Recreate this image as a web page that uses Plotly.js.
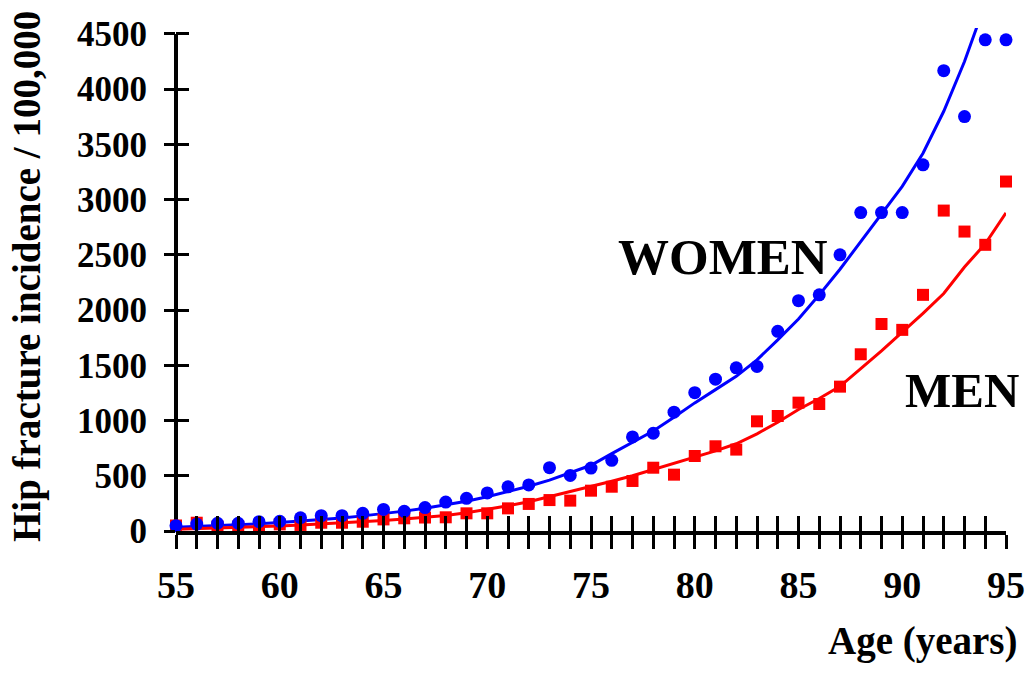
<!DOCTYPE html>
<html>
<head>
<meta charset="utf-8">
<script src="https://cdn.plot.ly/plotly-3.0.1.min.js"></script>
<style>html,body{margin:0;padding:0;background:#fff;}#chart{width:1029px;height:691px;}</style>
</head>
<body>
<div id="chart"></div>
<script>
// Age in years
const ages = [55,56,57,58,59,60,61,62,63,64,65,66,67,68,69,70,71,72,73,74,75,76,77,78,79,80,81,82,83,84,85,86,87,88,89,90,91,92,93,94,95];

// Observed hip fracture incidence per 100,000 (women)
const womenObserved = [48,63,70,70,84,88,120,139,139,160,195,178,212,262,296,345,400,417,573,503,570,640,852,885,1076,1252,1375,1477,1490,1808,2085,2138,2500,2883,2883,2883,3315,4168,3752,4447,4447];

// Observed hip fracture incidence per 100,000 (men)
const menObserved = [50,75,40,40,42,60,55,75,75,84,105,115,122,124,160,160,205,245,280,275,365,401,453,573,510,679,767,737,993,1041,1162,1150,1307,1600,1874,1821,2138,2901,2711,2591,3164];

// Fitted curves
const womenFit = [35,41,48,56,65,76,88,102,118,137,157,180,206,235,270,310,355,405,460,525,595,700,800,905,1030,1160,1280,1400,1550,1730,1920,2138,2370,2620,2880,3120,3420,3800,4250,4750,5300];
const menFit = [15,20,26,32,39,46,54,63,73,83,95,108,122,140,165,195,228,265,310,355,400,450,500,555,610,665,725,790,880,985,1100,1200,1310,1470,1630,1800,1970,2150,2390,2600,2880];

// Axis ticks and texts
const xTickVals = [55,60,65,70,75,80,85,90,95];
const yTickVals = [0,500,1000,1500,2000,2500,3000,3500,4000,4500];
const xTitle = 'Age (years)';
const yTitle = 'Hip fracture incidence / 100,000';
const womenLabel = 'WOMEN';
const menLabel = 'MEN';

const FONT = 'Liberation Serif, Times New Roman, serif';
const BLUE = '#0000FF';
const RED = '#FF0000';
const yMax = 4554;

const traces = [
  {x: ages, y: womenFit, type: 'scatter', mode: 'lines', line: {color: BLUE, width: 3}, showlegend: false, hoverinfo: 'skip'},
  {x: ages, y: menFit, type: 'scatter', mode: 'lines', line: {color: RED, width: 3}, showlegend: false, hoverinfo: 'skip'},
  {x: ages, y: menObserved, type: 'scatter', mode: 'markers', marker: {symbol: 'square', size: 12, color: RED}, cliponaxis: false, showlegend: false},
  {x: ages, y: womenObserved, type: 'scatter', mode: 'markers', marker: {symbol: 'circle', size: 13, color: BLUE}, cliponaxis: false, showlegend: false}
];

const tickFontX = {family: FONT, size: 38, color: '#000', weight: 'bold'};
const tickFontY = {family: FONT, size: 35, color: '#000', weight: 'bold'};

const layout = {
  width: 1029, height: 691,
  margin: {l: 176, r: 23, t: 28, b: 160},
  paper_bgcolor: '#fff', plot_bgcolor: '#fff',
  showlegend: false,
  xaxis: {
    range: [55, 95], showgrid: false, zeroline: false,
    showline: true, linecolor: '#000', linewidth: 4,
    tickmode: 'array', tickvals: xTickVals, ticktext: xTickVals.map(String),
    ticks: 'outside', ticklen: 14, tickwidth: 3, tickcolor: '#000',
    minor: {dtick: 1, tick0: 55, ticks: 'outside', ticklen: 14, tickwidth: 3, tickcolor: '#000', showgrid: false},
    tickfont: tickFontX, ticklabelstandoff: 3
  },
  xaxis2: {
    overlaying: 'x', anchor: 'y', side: 'bottom',
    range: [55, 95], showgrid: false, zeroline: false, showline: false,
    tickmode: 'array', tickvals: xTickVals,
    ticks: 'inside', ticklen: 15, tickwidth: 3, tickcolor: '#000',
    minor: {dtick: 1, tick0: 55, ticks: 'inside', ticklen: 15, tickwidth: 3, tickcolor: '#000', showgrid: false},
    showticklabels: false
  },
  yaxis: {
    range: [0, yMax], showgrid: false, zeroline: false,
    showline: false,
    tickmode: 'array', tickvals: yTickVals, ticktext: yTickVals.map(String),
    ticks: 'outside', ticklen: 11, tickwidth: 3, tickcolor: '#000',
    tickfont: tickFontY, ticklabelstandoff: 10
  },
  yaxis2: {
    overlaying: 'y', anchor: 'x', side: 'left',
    range: [0, yMax], showgrid: false, zeroline: false, showline: false,
    tickmode: 'array', tickvals: yTickVals,
    ticks: 'inside', ticklen: 13, tickwidth: 3, tickcolor: '#000',
    showticklabels: false
  },
  shapes: [
    {type: 'line', xref: 'paper', yref: 'y', x0: 0, x1: 0, y0: 0, y1: yTickVals[yTickVals.length - 1],
     line: {color: '#000', width: 4}, layer: 'below'}
  ],
  annotations: [
    {text: yTitle, xref: 'paper', yref: 'paper', x: -0.1795, y: 0.505, xanchor: 'center', yanchor: 'middle',
     textangle: -90, showarrow: false, font: {family: FONT, size: 39, color: '#000', weight: 'bold'}},
    {text: xTitle, xref: 'paper', yref: 'paper', x: 1.0169, y: -0.2187, xanchor: 'right', yanchor: 'middle',
     showarrow: false, font: {family: FONT, size: 39, color: '#000', weight: 'bold'}},
    {text: womenLabel, xref: 'paper', yref: 'paper', x: 0.659, y: 0.5447, xanchor: 'center', yanchor: 'middle',
     showarrow: false, font: {family: FONT, size: 51, color: '#000', weight: 'bold'}},
    {text: menLabel, xref: 'paper', yref: 'paper', x: 0.947, y: 0.2803, xanchor: 'center', yanchor: 'middle',
     showarrow: false, font: {family: FONT, size: 49, color: '#000', weight: 'bold'}}
  ]
};

traces.push({x: [], y: [], xaxis: 'x2', yaxis: 'y2', type: 'scatter', mode: 'markers', showlegend: false, hoverinfo: 'skip'});

Plotly.newPlot('chart', traces, layout, {staticPlot: true, displayModeBar: false});
</script>
</body>
</html>
